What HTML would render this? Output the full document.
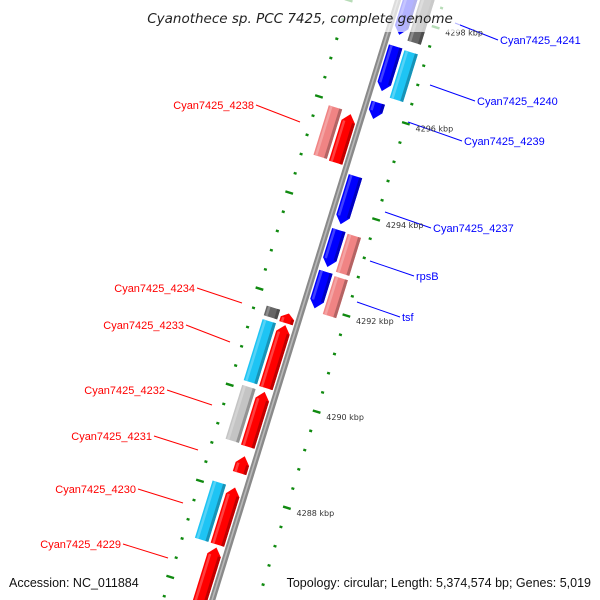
<!DOCTYPE html>
<html><head><meta charset="utf-8"><style>
html,body{margin:0;background:#fff;overflow:hidden;width:600px;height:600px}
svg{display:block;overflow:hidden;font-family:"Liberation Sans",sans-serif}
</style></head><body>
<svg id="map" width="600" height="600" viewBox="0 0 600 600" xmlns="http://www.w3.org/2000/svg">
<defs><clipPath id="cp"><rect width="600" height="600"/></clipPath></defs>
<rect width="600" height="600" fill="#fff"/>
<g clip-path="url(#cp)">
<g id="rot" transform="translate(398,0) rotate(17.2)">
  <rect x="-3" y="-60" width="6" height="700" fill="#8a8a8a"/>
  <rect x="-1" y="-60" width="1.6" height="700" fill="#b8b8b8"/>
</g>
</g>
<g id="labels" font-size="11"></g>
<g id="ticklabels" font-size="8" fill="#333" font-family="DejaVu Sans, sans-serif"></g>
<rect x="140" y="0" width="320" height="32" fill="#fff" opacity="0.7"/>
<text x="300" y="23" text-anchor="middle" font-size="13.5" font-style="italic" fill="#222" font-family="DejaVu Sans, sans-serif">Cyanothece sp. PCC 7425, complete genome</text>
<text x="9" y="587" font-size="12.5" fill="#111">Accession: NC_011884</text>
<text x="591" y="587" font-size="12.5" text-anchor="end" fill="#111">Topology: circular; Length: 5,374,574 bp; Genes: 5,019</text>
</svg>
<script>
// gene data (kbp)
const geneNames = ["Cyan7425_4241","Cyan7425_4241c","Cyan7425_4240","Cyan7425_4240c","Cyan7425_4239","Cyan7425_4237","rpsB","rpsBc","tsf","tsfc","Cyan7425_4238","Cyan7425_4238c","Cyan7425_4234c","Cyan7425_4234","Cyan7425_4233c","Cyan7425_4233","Cyan7425_4232c","Cyan7425_4232","Cyan7425_4231","Cyan7425_4230c","Cyan7425_4230","Cyan7425_4229"];
const geneHigh = [4298.7,4298.7,4297.40,4297.38,4296.23,4294.70,4293.58,4293.56,4292.71,4292.68,4295.85,4295.89,4291.72,4291.70,4291.44,4291.46,4290.07,4290.07,4288.73,4288.08,4288.08,4286.83];
const geneLow  = [4297.64,4297.58,4296.47,4296.39,4295.89,4293.70,4292.81,4292.77,4291.95,4291.89,4294.84,4294.86,4291.52,4291.50,4290.17,4290.15,4288.95,4288.93,4288.38,4286.89,4286.89,4285.57];
const geneTrack = ["fi","fo","fi","fo","fi","fi","fi","fo","fi","fo","ri","ro","ro","ri","ro","ri","ro","ri","ri","ro","ri","ri"];
const geneColor = ["#0000ff","#666666","#0000ff","#1ec4f4","#0000ff","#0000ff","#0000ff","#f08484","#0000ff","#f08484","#ff0000","#f08484","#666666","#ff0000","#1ec4f4","#ff0000","#c4c4c4","#ff0000","#ff0000","#1ec4f4","#ff0000","#ff0000"];
const tickMajor = [4298,4296,4294,4292,4290,4288,4286];
const tickLabels = ["4298 kbp","4296 kbp","4294 kbp","4292 kbp","4290 kbp","4288 kbp",""];
const labelText = ["Cyan7425_4241","Cyan7425_4240","Cyan7425_4239","Cyan7425_4237","rpsB","tsf","Cyan7425_4238","Cyan7425_4234","Cyan7425_4233","Cyan7425_4232","Cyan7425_4231","Cyan7425_4230","Cyan7425_4229"];

const S0=115.5, K=50.3, SIN=Math.sin(17.2*Math.PI/180), COS=Math.cos(17.2*Math.PI/180);
function sPos(kbp){return S0+(4296-kbp)*K;}
function toScreen(x,s){return [398+x*COS-s*SIN, x*SIN+s*COS];}
const NS="http://www.w3.org/2000/svg";
const rot=document.getElementById('rot');
const trackX={fi:[4.5,18.5],fo:[21,35],ri:[-18.5,-4.5],ro:[-35,-21]};
function shade(c,f){const n=parseInt(c.slice(1),16);let r=n>>16,g=(n>>8)&255,b=n&255;
 const m=v=>Math.max(0,Math.min(255,Math.round(f<1?v*f:v+(255-v)*(f-1))));return `rgb(${m(r)},${m(g)},${m(b)})`;}
// ticks
for(let k=4285.2;k<=4299.01;k+=0.4){
  const s=sPos(k); const major=Math.abs(k-Math.round(k))<0.01 && Math.round(k)%2===0;
  for(const side of [44,-47]){
    const t=document.createElementNS(NS,'rect');
    
    
    if(major){t.setAttribute('x',side-4);t.setAttribute('width',8);t.setAttribute('y',s-1.2);t.setAttribute('height',2.4);}
    else{t.setAttribute('x',side-1.5);t.setAttribute('width',3);t.setAttribute('y',s-1.2);t.setAttribute('height',2.4);}
    t.setAttribute('fill','#108a10');
    rot.appendChild(t);
  }
}
const tl=document.getElementById('ticklabels');
tickMajor.forEach((k,i)=>{
  if(!tickLabels[i])return;
  const [X,Y]=toScreen(52,sPos(k));
  const t=document.createElementNS(NS,'text');
  
  
  t.setAttribute('x',X+2);t.setAttribute('y',Y+6);t.textContent=tickLabels[i];tl.appendChild(t);
});
// genes
geneNames.forEach((n,i)=>{
  const [x0,x1]=trackX[geneTrack[i]];
  const sA=sPos(geneHigh[i]), sB=sPos(geneLow[i]);
  const inner=geneTrack[i][1]==='i', fwd=geneTrack[i][0]==='f';
  const xm=(x0+x1)/2, ah=Math.min(8,(sB-sA)*0.5);
  let pts;
  if(!inner) pts=[[x0,sA],[x1,sA],[x1,sB],[x0,sB]];
  else if(fwd) pts=[[x0,sA],[x1,sA],[x1,sB-ah],[xm,sB],[x0,sB-ah]];
  else pts=[[xm,sA],[x1,sA+ah],[x1,sB],[x0,sB],[x0,sA+ah]];
  const p=document.createElementNS(NS,'polygon');
  
  
  p.setAttribute('points',pts.map(q=>q.join(',')).join(' '));
  p.setAttribute('fill',geneColor[i]);
  rot.appendChild(p);
  const hl=document.createElementNS(NS,'rect');
  
  
  hl.setAttribute('x',x0+1.5);hl.setAttribute('width',2.5);
  hl.setAttribute('y',sA+(inner&&!fwd?ah:0));hl.setAttribute('height',Math.max(0,sB-sA-(inner?ah:0)));
  hl.setAttribute('fill',shade(geneColor[i],1.25));
  rot.appendChild(hl);
  const dk=document.createElementNS(NS,'rect');
  
  
  dk.setAttribute('x',x1-3);dk.setAttribute('width',3);
  dk.setAttribute('y',sA+(inner&&!fwd?ah:0));dk.setAttribute('height',Math.max(0,sB-sA-(inner?ah:0)));
  dk.setAttribute('fill',shade(geneColor[i],0.75));
  rot.appendChild(dk);
});
// gene labels (screen positions of leader lines)
const lab=document.getElementById('labels');
const labelLines=[[455,23,498,40],[430,85,475,101],[408,122,462,141],[385,212,431,228],[370,261,414,276],[357,302,400,317],[300,122,256,105],[242,303,197,288],[230,342,186,325],[212,405,167,390],[198,450,154,436],[183,503,138,489],[168,558,123,544]];
labelText.forEach((t,i)=>{
  const [a,b,c,d]=labelLines[i]; const right=i<6; const col=right?'#0000ff':'#ff0000';
  const l=document.createElementNS(NS,'line');
  
  
  l.setAttribute('x1',a);l.setAttribute('y1',b);l.setAttribute('x2',c);l.setAttribute('y2',d);
  l.setAttribute('stroke',col);l.setAttribute('stroke-width',1);lab.appendChild(l);
  const tx=document.createElementNS(NS,'text');
  
  
  tx.setAttribute('x',right?c+2:c-2);tx.setAttribute('y',d+4);
  tx.setAttribute('text-anchor',right?'start':'end');tx.setAttribute('fill',col);
  tx.textContent=t;lab.appendChild(tx);
});
</script>
</body></html>
